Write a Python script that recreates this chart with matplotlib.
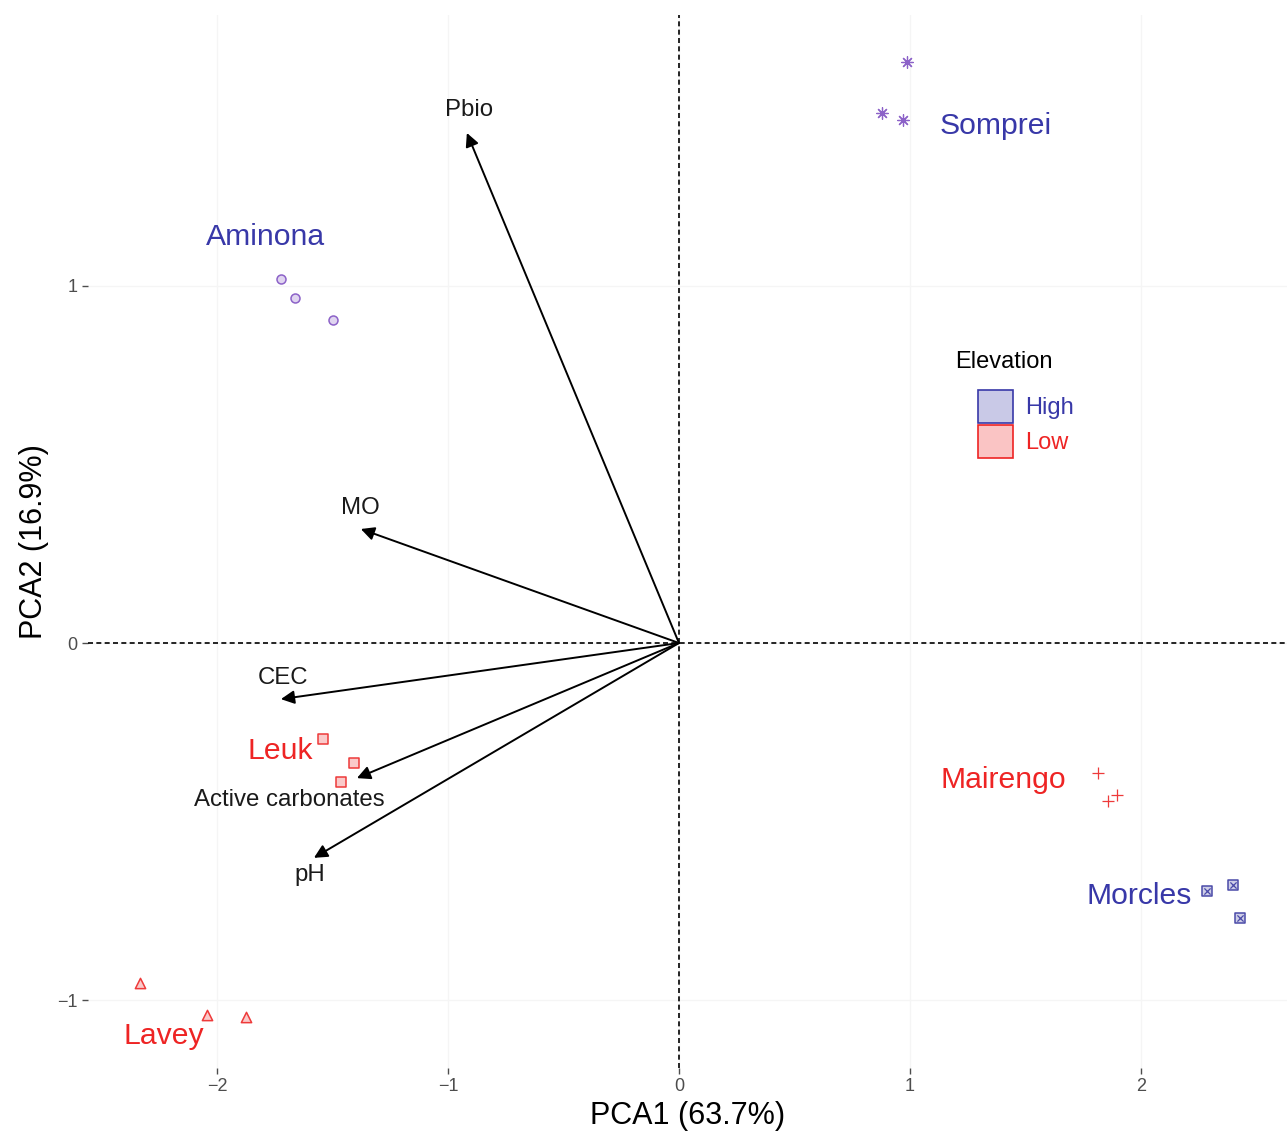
import matplotlib
matplotlib.use('Agg')
import matplotlib.pyplot as plt
from matplotlib.patches import Patch

plt.rcParams['font.family'] = ['Liberation Sans', 'DejaVu Sans']

# PCA scores for each site (three replicates per site)
sites = ['Aminona', 'Somprei', 'Morcles', 'Leuk', 'Lavey', 'Mairengo']
elevation = ['High', 'High', 'High', 'Low', 'Low', 'Low']
pc1 = {
    'Aminona': [-1.723, -1.662, -1.498],
    'Somprei': [0.987, 0.879, 0.970],
    'Morcles': [2.286, 2.398, 2.429],
    'Leuk': [-1.541, -1.407, -1.463],
    'Lavey': [-2.333, -2.043, -1.874],
    'Mairengo': [1.814, 1.857, 1.896],
}
pc2 = {
    'Aminona': [1.018, 0.965, 0.903],
    'Somprei': [1.625, 1.483, 1.463],
    'Morcles': [-0.694, -0.677, -0.769],
    'Leuk': [-0.269, -0.336, -0.389],
    'Lavey': [-0.951, -1.041, -1.046],
    'Mairengo': [-0.364, -0.442, -0.425],
}

# variable loadings (arrow tips)
variables = ['Pbio', 'MO', 'CEC', 'Active carbonates', 'pH']
load1 = [-0.918, -1.377, -1.723, -1.394, -1.580]
load2 = [1.427, 0.319, -0.157, -0.378, -0.601]

x_label = 'PCA1 (63.7%)'
y_label = 'PCA2 (16.9%)'

# styling
colors = {'High': '#3838a8', 'Low': '#ee2424'}
point_colors = {'Aminona': '#8c62c8', 'Somprei': '#8c62c8', 'Morcles': '#4a4aa8',
                'Leuk': '#ee3a3a', 'Lavey': '#ee3a3a', 'Mairengo': '#ee3a3a'}
markers = {'Aminona': 'o', 'Somprei': (8, 2, 0), 'Morcles': 's',
           'Leuk': 's', 'Lavey': '^', 'Mairengo': '+'}
marker_size = {'Aminona': 42, 'Somprei': 70, 'Morcles': 42,
               'Leuk': 42, 'Lavey': 55, 'Mairengo': 70}
site_label_pos = {
    'Aminona': (-1.788, 1.136, 'center'),
    'Somprei': (1.13, 1.446, 'left'),
    'Morcles': (1.991, -0.708, 'center'),
    'Leuk': (-1.727, -0.302, 'center'),
    'Lavey': (-2.229, -1.099, 'center'),
    'Mairengo': (1.403, -0.383, 'center'),
}
var_label_pos = {
    'Pbio': (-0.909, 1.491),
    'MO': (-1.381, 0.378),
    'CEC': (-1.714, -0.098),
    'Active carbonates': (-1.688, -0.439),
    'pH': (-1.597, -0.649),
}

fig = plt.figure(figsize=(12.87, 11.38), dpi=100)
ax = fig.add_axes([88 / 1287, 1 - 1068 / 1138, 1 - 88 / 1287, (1068 - 15) / 1138])
ax.set_xlim(-2.558, 2.632)
ax.set_ylim(-1.189, 1.757)

for s in ax.spines.values():
    s.set_visible(False)
ax.grid(True, color='#f5f5f5', lw=1.0)
ax.set_axisbelow(True)

ax.axvline(0, color='black', ls=(0, (3, 2)), lw=1.2, zorder=1)
ax.axhline(0, color='black', ls=(0, (3, 2)), lw=1.2, zorder=1)

for site, elev in zip(sites, elevation):
    c = point_colors[site]
    m = markers[site]
    if m == '+' or isinstance(m, tuple):
        ax.scatter(pc1[site], pc2[site], marker=m, s=marker_size[site], color=c,
                   linewidths=0.9, zorder=3)
    else:
        ax.scatter(pc1[site], pc2[site], marker=m, s=marker_size[site], facecolor=c + '44',
                   edgecolor=c, linewidths=1.1, zorder=3)
        if site == 'Morcles':
            ax.scatter(pc1[site], pc2[site], marker='x', s=20, color=c, linewidths=0.9, zorder=4)
    lx, ly, ha = site_label_pos[site]
    ax.text(lx, ly, site, color=colors[elev], fontsize=21.7, ha=ha, va='center', zorder=5)

for name, vx, vy in zip(variables, load1, load2):
    ax.annotate('', xy=(vx, vy), xytext=(0, 0),
                arrowprops=dict(arrowstyle='-|>', color='black', lw=1.4,
                                mutation_scale=20, shrinkA=0, shrinkB=0),
                zorder=2)
    tx, ty = var_label_pos[name]
    ax.text(tx, ty, name, color='#1a1a1a', fontsize=17.3, ha='center', va='center')

ax.set_xticks([-2, -1, 0, 1, 2])
ax.set_yticks([-1, 0, 1])
ax.tick_params(colors='#4d4d4d', labelsize=13, length=4, width=1)
ax.set_xlabel(x_label, fontsize=22, labelpad=4)
ax.set_ylabel(y_label, fontsize=22, labelpad=6)

# legend: title placed on its own, keys stacked underneath
fig.text(955 / 1287, 1 - 362 / 1138, 'Elevation', fontsize=17, ha='left', va='center')
handles = [Patch(facecolor=colors[e] + '44', edgecolor=colors[e], lw=1.2, label=e)
           for e in ['High', 'Low']]
leg = fig.legend(handles=handles, loc='upper left',
                 bbox_to_anchor=(978 / 1287, 1 - 390 / 1138), frameon=False,
                 borderpad=0, borderaxespad=0,
                 fontsize=17, handlelength=1.48, handleheight=1.75,
                 handletextpad=0.5, labelspacing=0.1)
for t, e in zip(leg.get_texts(), ['High', 'Low']):
    t.set_color(colors[e])

fig.savefig('out.png', dpi=100)
